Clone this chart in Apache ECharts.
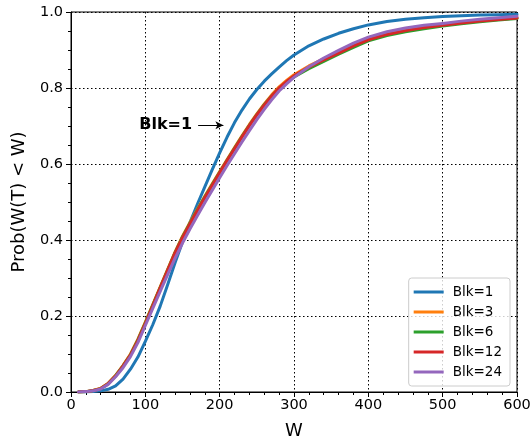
<!DOCTYPE html>
<html>
<head>
<meta charset="utf-8">
<script src="https://cdn.jsdelivr.net/npm/echarts@6/dist/echarts.min.js"></script>
<style>html,body{margin:0;padding:0;background:#fff}#c{width:532px;height:438px}</style>
</head>
<body>
<div id="c"></div>
<script>
const W = [10,20,30,40,50,60,70,80,90,100,110,120,130,140,150,160,170,180,190,200,210,220,230,240,250,260,270,280,290,300,320,340,360,380,400,425,450,475,500,525,550,575,600];
const blk1  = [0,0,0.001,0.003,0.007,0.016,0.034,0.06,0.092,0.133,0.177,0.226,0.282,0.34,0.395,0.446,0.494,0.54,0.585,0.629,0.671,0.709,0.742,0.771,0.796,0.818,0.837,0.855,0.872,0.887,0.911,0.929,0.944,0.956,0.966,0.975,0.981,0.985,0.988,0.99,0.992,0.993,0.994];
const blk3  = [0,0.001,0.004,0.01,0.023,0.044,0.07,0.1,0.139,0.184,0.23,0.277,0.323,0.369,0.41,0.446,0.481,0.515,0.548,0.58,0.612,0.643,0.674,0.704,0.732,0.758,0.782,0.803,0.82,0.835,0.858,0.877,0.895,0.913,0.929,0.943,0.952,0.96,0.966,0.972,0.977,0.981,0.985];
const blk6  = [0,0.001,0.004,0.009,0.022,0.043,0.069,0.098,0.137,0.182,0.229,0.275,0.321,0.367,0.408,0.444,0.479,0.513,0.546,0.578,0.61,0.641,0.672,0.702,0.73,0.756,0.779,0.799,0.815,0.829,0.851,0.87,0.889,0.907,0.924,0.938,0.948,0.956,0.963,0.969,0.974,0.979,0.983];
const blk12 = [0,0.001,0.004,0.009,0.022,0.042,0.068,0.097,0.135,0.18,0.227,0.274,0.32,0.366,0.406,0.442,0.477,0.511,0.544,0.577,0.609,0.64,0.671,0.701,0.729,0.755,0.779,0.8,0.817,0.832,0.855,0.874,0.892,0.911,0.927,0.941,0.951,0.959,0.965,0.971,0.976,0.98,0.984];
const blk24 = [0,0.001,0.003,0.008,0.02,0.04,0.064,0.093,0.13,0.175,0.22,0.265,0.309,0.352,0.392,0.429,0.464,0.498,0.531,0.564,0.596,0.627,0.658,0.688,0.717,0.744,0.769,0.792,0.811,0.828,0.856,0.879,0.899,0.918,0.934,0.948,0.958,0.965,0.97,0.976,0.981,0.985,0.989];
const seriesNames = ['Blk=1','Blk=3','Blk=6','Blk=12','Blk=24'];
const seriesVals = [blk1, blk3, blk6, blk12, blk24];
const colors = ['#1f77b4','#ff7f0e','#2ca02c','#d62728','#9467bd'];
const xTicks = [0,100,200,300,400,500,600];
const yTicks = [0,0.2,0.4,0.6,0.8,1.0];
const annotation = {text:'Blk=1', from:[171,0.702], to:[205,0.702]};

const FONT = 'DejaVu Sans';
const chart = echarts.init(document.getElementById('c'), null, {renderer:'canvas'});

const series = seriesNames.map((name, i) => {
  const s = {
    name: name,
    type: 'line',
    data: W.map((w, k) => [w, seriesVals[i][k]]),
    showSymbol: false,
    symbol: 'none',
    smooth: false,
    lineStyle: {width: 3, color: colors[i], join: 'round', cap: 'round'},
    itemStyle: {color: colors[i]},
    z: 2 + i,
    animation: false
  };
  if (i === 0) {
    s.markLine = {
      silent: true,
      animation: false,
      symbol: ['none','arrow'],
      symbolSize: [6, 8],
      lineStyle: {color: '#000', width: 1, type: 'solid'},
      label: {
        show: true, position: 'start', formatter: annotation.text,
        fontFamily: FONT, fontSize: 16, fontWeight: 'bold', color: '#000', distance: 6,
        padding: [5, 0, 0, 0]
      },
      data: [[{coord: annotation.from}, {coord: annotation.to}]]
    };
  }
  return s;
});

chart.setOption({
  animation: false,
  backgroundColor: '#fff',
  textStyle: {fontFamily: FONT},
  grid: {left: 71, right: 15, top: 12, bottom: 46, containLabel: false, outerBoundsMode: 'none',
         show: true, borderColor: '#000', borderWidth: 1},
  legend: {
    data: seriesNames,
    orient: 'vertical',
    right: 22, bottom: 52,
    icon: 'rect',
    itemWidth: 30, itemHeight: 3,
    itemGap: 6,
    padding: [7, 8, 7, 5],
    borderColor: '#cccccc', borderWidth: 1, borderRadius: 3,
    backgroundColor: 'rgba(255,255,255,0.8)',
    textStyle: {fontFamily: FONT, fontSize: 13.5, color: '#000', padding: [0,0,0,4]}
  },
  xAxis: {
    type: 'value', min: xTicks[0], max: xTicks[xTicks.length-1], interval: 100,
    name: 'W', nameLocation: 'middle', nameGap: 30,
    nameTextStyle: {fontFamily: FONT, fontSize: 18, color: '#000'},
    axisLine: {show: true, lineStyle: {color: '#000', width: 1}},
    axisTick: {show: true, inside: false, length: 5, lineStyle: {color: '#000'}},
    minorTick: {show: true, splitNumber: 5, length: 3, lineStyle: {color: '#000'}},
    axisLabel: {fontFamily: FONT, fontSize: 14.5, color: '#000', margin: 6},
    splitLine: {show: true, lineStyle: {color: '#000', type: [1.5, 2.5], width: 1}}
  },
  yAxis: {
    type: 'value', min: yTicks[0], max: yTicks[yTicks.length-1], interval: 0.2,
    name: 'Prob(W(T) < W)', nameLocation: 'middle', nameGap: 43,
    nameTextStyle: {fontFamily: FONT, fontSize: 18, color: '#000'},
    axisLine: {show: true, lineStyle: {color: '#000', width: 1}},
    axisTick: {show: true, inside: false, length: 5, lineStyle: {color: '#000'}},
    minorTick: {show: true, splitNumber: 4, length: 3, lineStyle: {color: '#000'}},
    axisLabel: {fontFamily: FONT, fontSize: 14.5, color: '#000', margin: 8, formatter: v => v.toFixed(1)},
    splitLine: {show: true, lineStyle: {color: '#000', type: [1.5, 2.5], width: 1}}
  },
  series: series
});
</script>
</body>
</html>
